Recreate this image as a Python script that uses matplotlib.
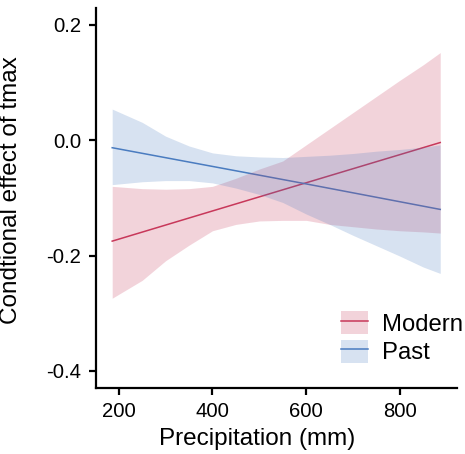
import matplotlib
matplotlib.use("Agg")
import matplotlib.pyplot as plt
from matplotlib.lines import Line2D
from matplotlib.patches import Patch

plt.rcParams["font.family"] = ["Liberation Sans", "DejaVu Sans"]

# ribbon grid (precipitation, mm)
precip = [186, 250, 300, 350, 400, 450, 500, 550, 600, 650, 700, 750, 800, 850, 886]

modern_lo = [-0.274, -0.243, -0.209, -0.182, -0.157, -0.146, -0.140, -0.139,
             -0.139, -0.146, -0.150, -0.154, -0.157, -0.159, -0.161]
modern_hi = [-0.080, -0.084, -0.085, -0.084, -0.080, -0.066, -0.050, -0.036,
             -0.008, 0.020, 0.048, 0.076, 0.104, 0.131, 0.152]
past_lo = [-0.077, -0.072, -0.070, -0.070, -0.074, -0.083, -0.094, -0.108,
           -0.128, -0.146, -0.165, -0.183, -0.201, -0.220, -0.231]
past_hi = [0.054, 0.031, 0.007, -0.010, -0.022, -0.027, -0.029, -0.030,
           -0.028, -0.026, -0.023, -0.019, -0.016, -0.012, -0.008]

# fitted lines
line_x = [186, 595, 886]
modern_fit = [-0.175, -0.075, -0.004]
past_fit = [-0.013, -0.075, -0.120]

groups = ["Modern", "Past"]
colors = {"Modern": "#C8385A", "Past": "#4A7CC0"}
ALPHA = 0.22

fig = plt.figure(figsize=(4.65, 4.54), dpi=100)
ax = fig.add_axes([0.206, 0.145, 0.777, 0.837])

# lines first, ribbons over them (as in the original)
ax.plot(line_x, modern_fit, color=colors["Modern"], lw=1.1, zorder=1)
ax.plot(line_x, past_fit, color=colors["Past"], lw=1.1, zorder=1)
ax.fill_between(precip, modern_lo, modern_hi, color=colors["Modern"], alpha=ALPHA, lw=0, zorder=2)
ax.fill_between(precip, past_lo, past_hi, color=colors["Past"], alpha=ALPHA, lw=0, zorder=3)

ax.set_xlim(151, 922)
ax.set_ylim(-0.43, 0.229)
ax.set_xticks([200, 400, 600, 800])
ax.set_yticks([-0.4, -0.2, 0.0, 0.2])
ax.set_yticklabels(["-0.4", "-0.2", "0.0", "0.2"])

for side in ("top", "right"):
    ax.spines[side].set_visible(False)
for side in ("left", "bottom"):
    ax.spines[side].set_linewidth(1.6)
ax.tick_params(axis="both", width=1.6, length=5, labelsize=14.6, colors="black")
ax.tick_params(axis="y", pad=5.5)
ax.tick_params(axis="x", pad=5)

ax.set_xlabel("Precipitation (mm)", fontsize=17.5)
ax.set_ylabel("Condtional effect of tmax", fontsize=17.5)
ax.xaxis.set_label_coords(0.446, -0.105)
ax.yaxis.set_label_coords(-0.205, 0.52)

handles = []
for g in groups:
    handles.append((Patch(facecolor=colors[g], alpha=ALPHA, lw=0),
                    Line2D([], [], color=colors[g], lw=1.1)))
ax.legend(handles, groups, loc="upper left", bbox_to_anchor=(0.678, 0.203),
          frameon=False, fontsize=17.2, handlelength=1.12, handleheight=1.12,
          handletextpad=0.6, labelspacing=0.16, borderpad=0, borderaxespad=0)

fig.savefig("out.png", dpi=100)
